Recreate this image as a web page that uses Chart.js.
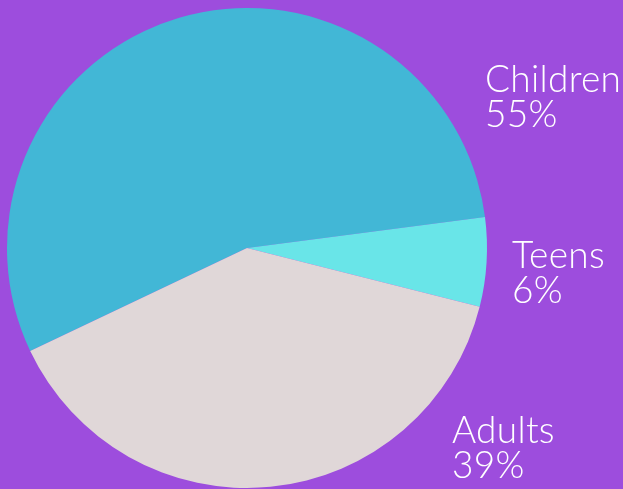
<!DOCTYPE html>
<html>
<head>
<meta charset="utf-8">
<script src="https://cdn.jsdelivr.net/npm/chart.js@4"></script>
<style>
html,body{margin:0;padding:0;background:#9D4DDD;}
#wrap{width:623px;height:489px;position:relative;}
</style>
</head>
<body>
<div id="wrap"><canvas id="c" width="623" height="489"></canvas></div>
<script>
const categories = ["Children", "Teens", "Adults"];
const values = [55, 6, 39];
const colors = ["#42B7D6", "#69E5E8", "#E0D7D8"];

// label baseline anchors relative to pie center, in units of radius
const labelAnchors = [
  {dx: 0.9917, dy: -0.65},
  {dx: 1.104, dy: 0.0833},
  {dx: 0.854, dy: 0.8125}
];

const labelPlugin = {
  id: 'labels',
  afterDraw(chart) {
    const ctx = chart.ctx;
    const arc = chart.getDatasetMeta(0).data[0];
    const cx = arc.x, cy = arc.y, r = arc.outerRadius;
    ctx.save();
    ctx.fillStyle = '#FFFFFF';
    ctx.font = '300 37px Lato, "Open Sans", sans-serif';
    if ('letterSpacing' in ctx) ctx.letterSpacing = '0.3px';
    ctx.textBaseline = 'alphabetic';
    ctx.textAlign = 'left';
    categories.forEach((name, i) => {
      const a = labelAnchors[i];
      const x = cx + a.dx * r, y = cy + a.dy * r;
      ctx.fillText(name, x, y);
      ctx.fillText(values[i] + '%', x, y + 35);
    });
    ctx.restore();
  }
};

new Chart(document.getElementById('c'), {
  type: 'pie',
  data: {
    labels: categories,
    datasets: [{
      data: values,
      backgroundColor: colors,
      borderWidth: 0
    }]
  },
  options: {
    responsive: false,
    animation: false,
    rotation: 244.6,
    layout: {padding: {left: 7, right: 136, top: 8, bottom: 1}},
    plugins: {legend: {display: false}, tooltip: {enabled: false}}
  },
  plugins: [labelPlugin]
});
</script>
</body>
</html>
